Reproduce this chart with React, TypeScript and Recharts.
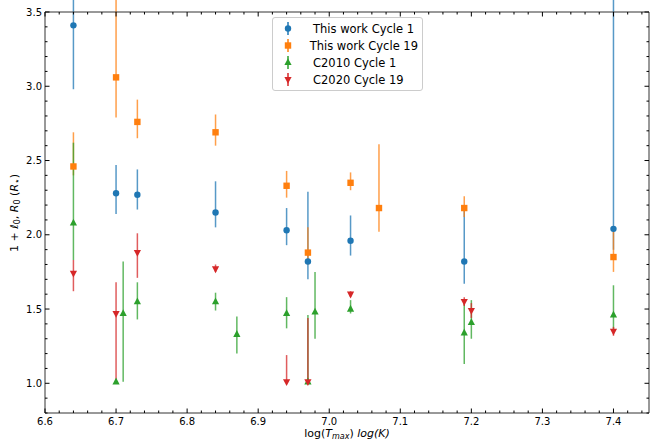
import React from 'react';
import { ScatterChart, Scatter, XAxis, YAxis, ErrorBar, Legend, Label } from 'recharts';

// This work, cycle 1
const TW1_X = [6.64, 6.7, 6.73, 6.84, 6.94, 6.97, 7.03, 7.19, 7.4];
const TW1_Y = [3.41, 2.28, 2.27, 2.15, 2.03, 1.82, 1.96, 1.82, 2.04];
const TW1_LO = [2.98, 2.14, 2.17, 2.05, 1.93, 1.7, 1.86, 1.67, 1.9];
const TW1_HI = [3.85, 2.47, 2.44, 2.36, 2.18, 2.29, 2.13, 2.16, 3.8];

// This work, cycle 19
const TW19_X = [6.64, 6.7, 6.73, 6.84, 6.94, 6.97, 7.03, 7.07, 7.19, 7.4];
const TW19_Y = [2.46, 3.06, 2.76, 2.69, 2.33, 1.88, 2.35, 2.18, 2.18, 1.85];
const TW19_LO = [2.4, 2.79, 2.65, 2.6, 2.25, 1.8, 2.3, 2.02, 2.12, 1.75];
const TW19_HI = [2.69, 3.7, 2.91, 2.81, 2.43, 2.05, 2.42, 2.61, 2.26, 2.05];

// C2010, cycle 1
const C2010_X = [6.64, 6.7, 6.71, 6.73, 6.84, 6.87, 6.94, 6.97, 6.98, 7.03, 7.19, 7.2, 7.4];
const C2010_Y = [2.08, 1.01, 1.47, 1.55, 1.55, 1.33, 1.47, 1.01, 1.48, 1.5, 1.34, 1.41, 1.46];
const C2010_LO = [1.83, 1.01, 1.01, 1.43, 1.49, 1.2, 1.37, 1.01, 1.3, 1.47, 1.13, 1.3, 1.35];
const C2010_HI = [2.62, 1.01, 1.82, 1.68, 1.61, 1.45, 1.58, 1.46, 1.75, 1.56, 1.55, 1.56, 1.66];

// C2020, cycle 19
const C2020_X = [6.64, 6.7, 6.73, 6.84, 6.94, 6.97, 7.03, 7.19, 7.2, 7.4];
const C2020_Y = [1.74, 1.47, 1.88, 1.77, 1.01, 1.01, 1.6, 1.55, 1.49, 1.35];
const C2020_LO = [1.62, 1.0, 1.71, 1.75, 1.01, 1.01, 1.58, 1.52, 1.44, 1.32];
const C2020_HI = [1.83, 1.68, 2.01, 1.8, 1.19, 1.44, 1.62, 1.58, 1.54, 1.38];

const X_TICKS = [6.6, 6.7, 6.8, 6.9, 7.0, 7.1, 7.2, 7.3, 7.4];
const Y_TICKS = [1.0, 1.5, 2.0, 2.5, 3.0, 3.5];

const FONT = '"DejaVu Sans", sans-serif';
const SPINE = '#333';

const build = (xs: number[], ys: number[], lo: number[], hi: number[]) =>
  xs.map((x, i) => ({ x, y: ys[i], err: [ys[i] - lo[i], hi[i] - ys[i]] }));

// minor ticks
const xMinor: number[] = [];
for (let i = 0; i <= 42; i++) xMinor.push(Math.round((6.6 + i * 0.02) * 100) / 100);
const yMinor: number[] = [];
for (let i = 0; i <= 27; i++) yMinor.push(Math.round((0.8 + i * 0.1) * 10) / 10);

const isMajor = (v: number, list: number[]) => list.some((t) => Math.abs(t - v) < 1e-6);

const Circle = (p: any) => <circle cx={p.cx} cy={p.cy} r={3.2} fill="#1f77b4" />;
const Square = (p: any) => <rect x={p.cx - 3.2} y={p.cy - 3.2} width={6.4} height={6.4} fill="#ff7f0e" />;
const TriUp = (p: any) => (
  <polygon points={`${p.cx},${p.cy - 4.2} ${p.cx - 3.6},${p.cy + 2.6} ${p.cx + 3.6},${p.cy + 2.6}`} fill="#2ca02c" />
);
const TriDown = (p: any) => (
  <polygon points={`${p.cx},${p.cy + 4.2} ${p.cx - 3.6},${p.cy - 2.6} ${p.cx + 3.6},${p.cy - 2.6}`} fill="#d62728" />
);

const SERIES = [
  { name: 'This work Cycle 1', color: '#1f77b4', shape: Circle, data: build(TW1_X, TW1_Y, TW1_LO, TW1_HI) },
  { name: 'This work Cycle 19', color: '#ff7f0e', shape: Square, data: build(TW19_X, TW19_Y, TW19_LO, TW19_HI) },
  { name: 'C2010 Cycle 1', color: '#2ca02c', shape: TriUp, data: build(C2010_X, C2010_Y, C2010_LO, C2010_HI) },
  { name: 'C2020 Cycle 19', color: '#d62728', shape: TriDown, data: build(C2020_X, C2020_Y, C2020_LO, C2020_HI) },
];

const makeTick = (side: string) => (props: any) => {
  const { x, y, payload } = props;
  const v = payload.value;
  const horiz = side === 'bottom' || side === 'top';
  const major = isMajor(v, horiz ? X_TICKS : Y_TICKS);
  const len = major ? 4.5 : 2.5;
  let line;
  if (side === 'bottom') line = <line x1={x} x2={x} y1={y} y2={y - len} stroke="#000" />;
  else if (side === 'top') line = <line x1={x} x2={x} y1={y} y2={y + len} stroke="#000" />;
  else if (side === 'left') line = <line x1={x} x2={x + len} y1={y} y2={y} stroke="#000" />;
  else line = <line x1={x} x2={x - len} y1={y} y2={y} stroke="#000" />;
  return (
    <g>
      {line}
      {major && side === 'bottom' && (
        <text x={x} y={y + 12} textAnchor="middle" fontSize={10} fontFamily={FONT} fill="#000">
          {v.toFixed(1)}
        </text>
      )}
      {major && side === 'left' && (
        <text x={x - 3} y={y + 3.6} textAnchor="end" fontSize={10} fontFamily={FONT} fill="#000">
          {v.toFixed(1)}
        </text>
      )}
    </g>
  );
};

const LegendBox = () => (
  <div
    style={{
      border: '1px solid #cccccc',
      borderRadius: 3,
      background: 'rgba(255,255,255,0.8)',
      padding: '2px 4px 2px 5px',
      fontFamily: FONT,
      fontSize: 11.5,
      color: '#000',
      width: 151,
      boxSizing: 'border-box',
    }}
  >
    {SERIES.map((s) => {
      const M = s.shape;
      return (
        <div key={s.name} style={{ display: 'flex', alignItems: 'center', height: 17 }}>
          <svg width={20} height={17}>
            <line x1={10} x2={10} y1={2} y2={15} stroke={s.color} strokeWidth={1.5} />
            <M cx={10} cy={8.5} />
          </svg>
          <span style={{ marginLeft: 15, whiteSpace: 'nowrap' }}>{s.name}</span>
        </div>
      );
    })}
  </div>
);

export default function App() {
  return (
    <div style={{ width: 650, height: 441 }}>
      <style>{'body{margin:0}'}</style>
      <ScatterChart width={650} height={441} margin={{ top: 11, right: 0, bottom: 0, left: 0 }}>
        <XAxis
          type="number"
          dataKey="x"
          domain={[6.6, 7.45]}
          allowDataOverflow
          ticks={xMinor}
          interval={0}
          tickSize={0}
          tickMargin={0}
          tickLine={false}
          tick={makeTick('bottom')}
          height={28}
          axisLine={{ stroke: SPINE, strokeWidth: 1 }}
        >
          <Label
            content={() => (
              <text x={347} y={437} textAnchor="middle" fontSize={11} fontFamily={FONT} fill="#000">
                log(<tspan fontStyle="italic">T</tspan>
                <tspan fontSize={8} fontStyle="italic" dy={2}>max</tspan>
                <tspan dy={-2}>) </tspan>
                <tspan fontStyle="italic">log(K)</tspan>
              </text>
            )}
          />
        </XAxis>
        <XAxis
          xAxisId="top"
          orientation="top"
          type="number"
          dataKey="x"
          domain={[6.6, 7.45]}
          allowDataOverflow
          ticks={xMinor}
          interval={0}
          tickSize={0}
          tickMargin={0}
          tickLine={false}
          tick={makeTick('top')}
          height={1}
          axisLine={{ stroke: SPINE, strokeWidth: 1 }}
        />
        <YAxis
          type="number"
          dataKey="y"
          domain={[0.8, 3.5]}
          allowDataOverflow
          ticks={yMinor}
          interval={0}
          tickSize={0}
          tickMargin={0}
          tickLine={false}
          tick={makeTick('left')}
          width={45}
          axisLine={{ stroke: SPINE, strokeWidth: 1 }}
        >
          <Label
            content={() => (
              <text
                x={18}
                y={213}
                transform="rotate(-90 18 213)"
                textAnchor="middle"
                fontSize={11}
                fontFamily={FONT}
                fill="#000"
              >
                1 + <tspan fontStyle="italic">ℓ</tspan>
                <tspan fontSize={8} dy={2}>0</tspan>
                <tspan dy={-2}>, </tspan>
                <tspan fontStyle="italic">R</tspan>
                <tspan fontSize={8} dy={2}>0</tspan>
                <tspan dy={-2}> (</tspan>
                <tspan fontStyle="italic">R</tspan>
                <tspan fontSize={9} dy={2}>⋆</tspan>
                <tspan dy={-2}>)</tspan>
              </text>
            )}
          />
        </YAxis>
        <YAxis
          yAxisId="right"
          orientation="right"
          type="number"
          domain={[0.8, 3.5]}
          allowDataOverflow
          ticks={yMinor}
          interval={0}
          tickSize={0}
          tickMargin={0}
          tickLine={false}
          tick={makeTick('right')}
          width={1}
          axisLine={{ stroke: SPINE, strokeWidth: 1 }}
        />
        {SERIES.map((s) => (
          <Scatter
            key={s.name}
            name={s.name}
            data={s.data}
            fill={s.color}
            shape={s.shape}
            isAnimationActive={false}
          >
            <ErrorBar
              dataKey="err"
              direction="y"
              width={0}
              stroke={s.color}
              strokeWidth={1.5}
              strokeOpacity={0.75}
            />
          </Scatter>
        ))}
        <Legend
          layout="vertical"
          align="center"
          verticalAlign="middle"
          content={() => <LegendBox />}
          wrapperStyle={{ top: 17, left: 272, width: 151 }}
        />
      </ScatterChart>
    </div>
  );
}
